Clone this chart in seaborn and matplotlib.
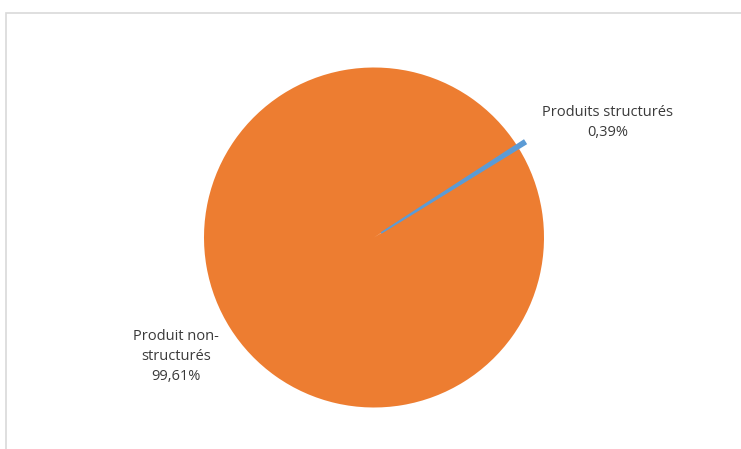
import numpy as np
import pandas as pd
import seaborn as sns
import matplotlib.pyplot as plt
from matplotlib.patches import Rectangle

# donnees du graphique
categories = ["Produits structurés", "Produit non-\nstructurés"]
parts = [0.39, 99.61]
etiquettes = ["0,39%", "99,61%"]
couleurs = ["#5B9BD5", "#ED7D31"]

sns.set_theme(style="white")
plt.rcParams['font.family'] = ['Open Sans', 'DejaVu Sans']

fig = plt.figure(figsize=(7.41, 4.49), dpi=100)
ax = fig.add_axes([0, 0, 1, 1])

# centre du camembert ~ (374, 237) px, rayon ~170 px
cx, cy, r = 374, 237.5, 170
wedges, _ = ax.pie(parts, colors=couleurs, startangle=33.0, counterclock=False,
                   radius=1, center=(0, 0), explode=[0.05, 0],
                   wedgeprops=dict(linewidth=0))
# la petite part en bleu un peu plus visible
wedges[0].set_edgecolor(couleurs[0])
wedges[0].set_linewidth(1.2)
wedges[0].set_zorder(3)
ax.set_aspect('auto')
ax.set_xlim(-cx / r, (741 - cx) / r)
ax.set_ylim(-(449 - cy) / r, cy / r)
ax.axis('off')

# etiquettes
pos_labels = [(1.376, 0.675), (-1.165, -0.70)]
for cat, lab, (x, y) in zip(categories, etiquettes, pos_labels):
    ax.text(x, y, cat + "\n" + lab, ha="center", va="center",
            fontsize=10.5, color="#3a3a3a", linespacing=1.42)

# cadre du graphique
fig.patches.append(Rectangle((6 / 741, -0.05), 1.2, 1 - 13 / 449 + 0.05,
                             transform=fig.transFigure, fill=False,
                             edgecolor="#d9d9d9", linewidth=1.2))

fig.savefig("out.png", dpi=100, facecolor="white")
